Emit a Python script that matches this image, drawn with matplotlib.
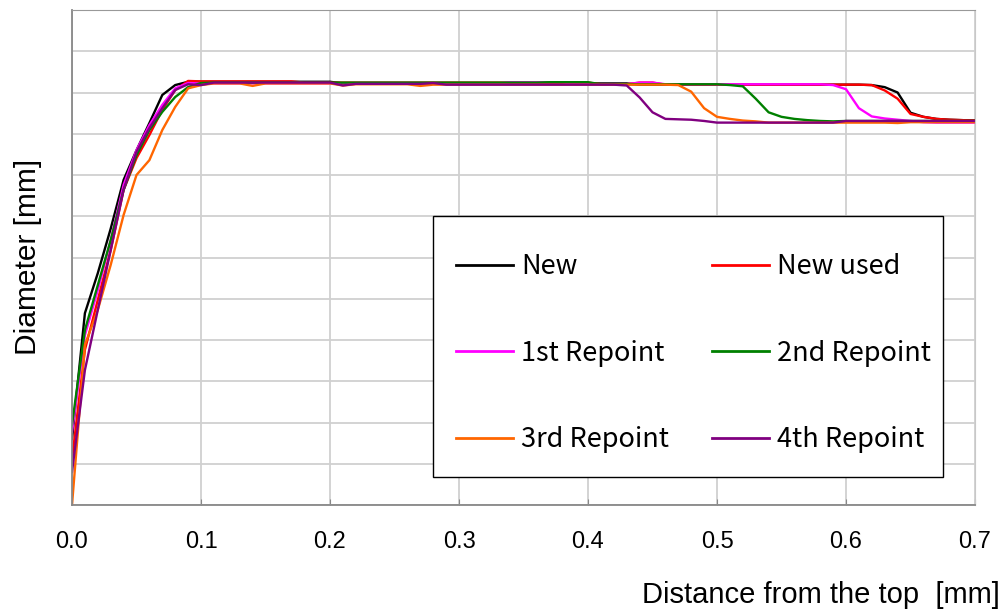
import numpy as np
import matplotlib.pyplot as plt
import matplotlib.patches as patches
import matplotlib.transforms as mtransforms

# distance from the top [mm], sampled every 0.01 mm
distance = [0.00, 0.01, 0.02, 0.03, 0.04, 0.05, 0.06, 0.07, 0.08, 0.09,
            0.10, 0.11, 0.12, 0.13, 0.14, 0.15, 0.16, 0.17, 0.18, 0.19,
            0.20, 0.21, 0.22, 0.23, 0.24, 0.25, 0.26, 0.27, 0.28, 0.29,
            0.30, 0.31, 0.32, 0.33, 0.34, 0.35, 0.36, 0.37, 0.38, 0.39,
            0.40, 0.41, 0.42, 0.43, 0.44, 0.45, 0.46, 0.47, 0.48, 0.49,
            0.50, 0.51, 0.52, 0.53, 0.54, 0.55, 0.56, 0.57, 0.58, 0.59,
            0.60, 0.61, 0.62, 0.63, 0.64, 0.65, 0.66, 0.67, 0.68, 0.69,
            0.70]

# diameter (arbitrary units, axis has no tick labels)
new = [1.60, 4.65, 5.62, 6.70, 7.88, 8.60, 9.26, 9.94, 10.18, 10.26,
       10.26, 10.26, 10.26, 10.26, 10.26, 10.26, 10.26, 10.26, 10.26, 10.26,
       10.26, 10.22, 10.22, 10.22, 10.22, 10.22, 10.22, 10.22, 10.22, 10.22,
       10.22, 10.22, 10.22, 10.22, 10.22, 10.22, 10.22, 10.22, 10.22, 10.22,
       10.22, 10.22, 10.22, 10.22, 10.19, 10.19, 10.19, 10.19, 10.19, 10.19,
       10.19, 10.19, 10.19, 10.19, 10.19, 10.19, 10.19, 10.19, 10.19, 10.19,
       10.19, 10.19, 10.18, 10.13, 10.00, 9.51, 9.41, 9.36, 9.34, 9.33,
       9.32]
new_used = [1.10, 3.76, 4.97, 6.18, 7.64, 8.41, 8.97, 9.58, 10.06, 10.28,
            10.27, 10.27, 10.27, 10.27, 10.27, 10.27, 10.27, 10.27, 10.24, 10.24,
            10.24, 10.24, 10.24, 10.24, 10.24, 10.24, 10.24, 10.24, 10.24, 10.24,
            10.24, 10.24, 10.24, 10.24, 10.24, 10.24, 10.24, 10.24, 10.24, 10.24,
            10.24, 10.20, 10.20, 10.20, 10.24, 10.24, 10.19, 10.19, 10.19, 10.19,
            10.19, 10.19, 10.19, 10.19, 10.19, 10.19, 10.19, 10.19, 10.19, 10.19,
            10.19, 10.19, 10.18, 10.05, 9.85, 9.48, 9.41, 9.36, 9.34, 9.33,
            9.32]
rep1 = [1.77, 4.12, 5.21, 6.42, 7.76, 8.60, 9.21, 9.70, 10.10, 10.23,
        10.22, 10.22, 10.22, 10.22, 10.22, 10.22, 10.22, 10.22, 10.22, 10.22,
        10.22, 10.22, 10.22, 10.22, 10.22, 10.22, 10.22, 10.22, 10.22, 10.22,
        10.22, 10.22, 10.22, 10.22, 10.25, 10.25, 10.25, 10.25, 10.25, 10.20,
        10.20, 10.20, 10.20, 10.20, 10.24, 10.24, 10.20, 10.20, 10.20, 10.20,
        10.20, 10.20, 10.20, 10.20, 10.20, 10.20, 10.20, 10.20, 10.20, 10.18,
        10.08, 9.62, 9.42, 9.37, 9.34, 9.31, 9.28, 9.27, 9.27, 9.27,
        9.27]
rep2 = [1.94, 4.24, 5.33, 6.42, 7.64, 8.48, 9.09, 9.53, 9.89, 10.13,
        10.23, 10.24, 10.24, 10.24, 10.24, 10.24, 10.24, 10.24, 10.24, 10.24,
        10.24, 10.24, 10.24, 10.24, 10.24, 10.24, 10.24, 10.24, 10.24, 10.24,
        10.24, 10.24, 10.24, 10.24, 10.24, 10.24, 10.24, 10.25, 10.25, 10.25,
        10.25, 10.20, 10.20, 10.20, 10.20, 10.20, 10.20, 10.20, 10.20, 10.20,
        10.20, 10.18, 10.15, 9.85, 9.52, 9.41, 9.36, 9.33, 9.31, 9.30,
        9.31, 9.31, 9.31, 9.31, 9.31, 9.31, 9.31, 9.31, 9.31, 9.31,
        9.31]
rep3 = [0.00, 3.88, 4.73, 5.82, 7.03, 8.00, 8.36, 9.09, 9.65, 10.10,
        10.18, 10.22, 10.22, 10.22, 10.16, 10.22, 10.22, 10.22, 10.22, 10.22,
        10.22, 10.17, 10.20, 10.20, 10.20, 10.20, 10.20, 10.16, 10.19, 10.19,
        10.19, 10.19, 10.19, 10.19, 10.19, 10.19, 10.19, 10.19, 10.19, 10.19,
        10.19, 10.19, 10.19, 10.19, 10.19, 10.19, 10.19, 10.18, 10.02, 9.62,
        9.41, 9.36, 9.32, 9.30, 9.27, 9.27, 9.27, 9.27, 9.27, 9.27,
        9.27, 9.27, 9.27, 9.27, 9.26, 9.28, 9.28, 9.28, 9.28, 9.28,
        9.28]
rep4 = [0.80, 3.27, 4.73, 6.18, 7.64, 8.56, 9.14, 9.62, 10.06, 10.20,
        10.18, 10.24, 10.24, 10.24, 10.24, 10.24, 10.24, 10.24, 10.24, 10.24,
        10.24, 10.17, 10.21, 10.21, 10.21, 10.21, 10.21, 10.21, 10.23, 10.19,
        10.19, 10.19, 10.19, 10.19, 10.19, 10.19, 10.19, 10.19, 10.19, 10.19,
        10.19, 10.19, 10.19, 10.17, 9.88, 9.52, 9.36, 9.35, 9.34, 9.31,
        9.27, 9.27, 9.27, 9.27, 9.27, 9.27, 9.27, 9.27, 9.27, 9.27,
        9.31, 9.31, 9.31, 9.31, 9.31, 9.31, 9.31, 9.31, 9.31, 9.31,
        9.31]

series = [
    ('New', new, '#000000'),
    ('New used', new_used, '#ff0000'),
    ('1st Repoint', rep1, '#ff00ff'),
    ('2nd Repoint', rep2, '#008000'),
    ('3rd Repoint', rep3, '#ff6600'),
    ('4th Repoint', rep4, '#800080'),
]

W, H = 1007, 609
fig = plt.figure(figsize=(W / 100, H / 100), dpi=100)
ax = fig.add_axes([72 / W, 1 - 505 / H, 903 / W, 495 / H])

handles = {}
for label, vals, color in series:
    handles[label], = ax.plot(distance, vals, color=color, lw=1.7, label=label)

ax.set_xlim(0, 0.7)
ax.set_ylim(0, 12)
xt = np.arange(0, 0.71, 0.1)
ax.set_xticks(xt)
ax.set_xticklabels([f'{v:.1f}' for v in xt], family='Liberation Sans', fontsize=17)
shift = mtransforms.ScaledTranslation(-4 / 100, 0, fig.dpi_scale_trans)
for lab in ax.get_xticklabels():
    lab.set_transform(lab.get_transform() + shift)
ax.set_yticks(range(0, 13))
ax.set_yticklabels([])
ax.tick_params(axis='y', length=0)
ax.tick_params(axis='x', direction='in', length=4, color='#888888', pad=19)
ax.grid(True, color='#d0d0d0', lw=1.3)
ax.set_axisbelow(True)

for side in ['left', 'bottom']:
    ax.spines[side].set_color('#888888')
    ax.spines[side].set_linewidth(1.3)
ax.spines['top'].set_color('#999999')
ax.spines['right'].set_color('#c8c8c8')

fig.text(1000 / W, (H - 603) / H, 'Distance from the top  [mm]', ha='right', va='baseline',
         family='Liberation Sans', fontsize=21)
fig.text(28 / W, 1 - 257 / H, 'Diameter [mm]', rotation=90, ha='center', va='center',
         family='Liberation Sans', fontsize=21.5)

# legend frame drawn separately (Excel-style box with uneven padding)
box = patches.Rectangle(((433 - 72) / 903, (505 - 477) / 495), 510 / 903, 261 / 495,
                        transform=ax.transAxes, facecolor='white', edgecolor='black',
                        lw=1.0, zorder=4)
ax.add_patch(box)

# row-wise order: matplotlib fills legend columns first
order = ['New', '1st Repoint', '3rd Repoint', 'New used', '2nd Repoint', '4th Repoint']
leg = ax.legend([handles[k] for k in order], order, ncol=2, loc='upper left',
                bbox_to_anchor=((456 - 72) / 903, (505 - 253) / 495),
                borderaxespad=0, frameon=False,
                prop={'family': ['Noto Sans CJK JP', 'DejaVu Sans'], 'size': 19.5},
                handlelength=2.1, handletextpad=0.3, columnspacing=1.6,
                labelspacing=2.2, borderpad=0)
leg.set_zorder(5)
for line in leg.get_lines():
    line.set_linewidth(2.0)

fig.savefig('out.png', dpi=100)
